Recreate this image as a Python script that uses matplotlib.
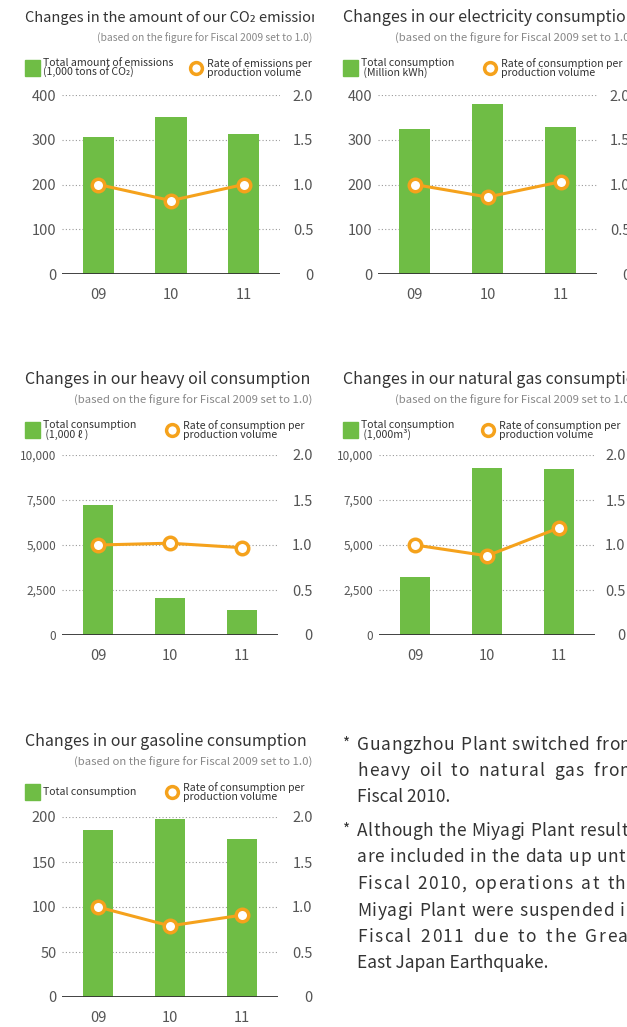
import matplotlib
matplotlib.use('Agg')
import matplotlib.pyplot as plt
from matplotlib.patches import Rectangle
from matplotlib.lines import Line2D
from matplotlib.transforms import Bbox, TransformedBbox
from matplotlib.font_manager import FontProperties

plt.rcParams['font.family'] = ['Noto Sans CJK JP', 'DejaVu Sans']

W, H = 627, 1027
GREEN = '#6fbd45'
ORANGE = '#f5a21c'
DARK = '#333333'
GREY = '#555555'

years = ['09', '10', '11']

co2_total = [306, 351, 313]
co2_rate = [1.0, 0.82, 1.0]
elec_total = [324, 380, 328]
elec_rate = [1.0, 0.86, 1.03]
oil_total = [7250, 2050, 1400]
oil_rate = [1.0, 1.02, 0.97]
gas_total = [3200, 9300, 9200]
gas_rate = [1.0, 0.88, 1.19]
gasoline_total = [186, 198, 176]
gasoline_rate = [1.0, 0.79, 0.91]

ticks_400 = [0, 100, 200, 300, 400]
ticks_10000 = [0, 2500, 5000, 7500, 10000]
labels_10000 = ['0', '2,500', '5,000', '7,500', '10,000']
ticks_200 = [0, 50, 100, 150, 200]
rate_ticks = [0, 0.5, 1.0, 1.5, 2.0]
rate_labels = ['0', '0.5', '1.0', '1.5', '2.0']

titles = ['Changes in the amount of our CO\u2082 emissions',
          'Changes in our electricity consumption',
          'Changes in our heavy oil consumption',
          'Changes in our natural gas consumption',
          'Changes in our gasoline consumption']
subtitle = '(based on the figure for Fiscal 2009 set to 1.0)'
bar_labels = ['Total amount of emissions\n(1,000 tons of CO\u2082)',
              'Total consumption\n (Million kWh)',
              'Total consumption\n (1,000 \u2113 )',
              'Total consumption\n (1,000m\u00b3)',
              'Total consumption']
rate_labels_leg = ['Rate of emissions per\nproduction volume',
                   'Rate of consumption per\nproduction volume',
                   'Rate of consumption per\nproduction volume',
                   'Rate of consumption per\nproduction volume',
                   'Rate of consumption per\nproduction volume']

note1 = ['Guangzhou Plant switched from', 'heavy oil to natural gas from', 'Fiscal 2010.']
note2 = ['Although the Miyagi Plant results', 'are included in the data up until',
         'Fiscal 2010, operations at the', 'Miyagi Plant were suspended in',
         'Fiscal 2011 due to the Great', 'East Japan Earthquake.']

fig = plt.figure(figsize=(W / 100, H / 100), dpi=100)
left_clip = TransformedBbox(Bbox.from_extents(0, 0, 314 / W, 1), fig.transFigure)


def fx(x):
    return x / W


def fy(y):
    return 1 - y / H


def txt(x, y, s, clip=False, **kw):
    t = fig.text(fx(x), fy(y), s, **kw)
    if clip:
        t.set_clip_box(left_clip)
        t.set_clip_on(True)
    return t


def panel(l, t, r, b, totals, rates, ymax, yticks, ylabels, lsize, rpad):
    ax = fig.add_axes([fx(l), fy(b), (r - l) / W, (b - t) / H])
    x = range(len(years))
    ax.bar(x, totals, width=0.43, color=GREEN, zorder=2)
    ax.set_xlim(-0.5, 2.5)
    ax.set_ylim(0, ymax)
    ax.set_yticks(yticks)
    ax.set_yticklabels(ylabels)
    ax.grid(axis='y', linestyle=(0, (1, 2)), color='#999999', lw=0.8)
    ax.set_axisbelow(True)
    ax.axhline(0, color=DARK, lw=1.3, zorder=3)
    for s in ax.spines.values():
        s.set_visible(False)
    ax.tick_params(axis='y', length=0, labelsize=lsize, labelcolor=GREY, pad=4)
    ax.set_xticks(list(x))
    ax.set_xticklabels(years)
    ax.tick_params(axis='x', length=0, labelsize=10.5, labelcolor=GREY, pad=10)

    ax2 = ax.twinx()
    ax2.plot(list(x), rates, color=ORANGE, lw=2.2, marker='o', ms=9,
             mfc='white', mec=ORANGE, mew=2.5, zorder=4)
    ax2.set_ylim(0, 2)
    ax2.set_yticks(rate_ticks)
    ax2.set_yticklabels(rate_labels)
    for lab in ax2.get_yticklabels():
        lab.set_ha('right')
    ax2.tick_params(axis='y', length=0, labelsize=10.5, labelcolor=GREY, pad=rpad)
    for s in ax2.spines.values():
        s.set_visible(False)
    return ax


def header(i, x0, ytop, title_fs, sub_fs, sub_right, ring_x, clip):
    txt(x0, ytop, titles[i], clip=clip, fontsize=title_fs, color=DARK, va='center')
    txt(sub_right, ytop + 20, subtitle, clip=clip, fontsize=sub_fs, color='#888888',
        va='center', ha='right')
    ly = ytop + 50
    fig.add_artist(Rectangle((fx(x0), fy(ly + 8)), 15 / W, 16 / H,
                             color=GREEN, transform=fig.transFigure))
    txt(x0 + 18, ly, bar_labels[i], clip=clip, fontsize=7.6, color=DARK,
        va='center', linespacing=0.9)
    fig.add_artist(Line2D([fx(ring_x)], [fy(ly)], marker='o', ms=8.5, mfc='white',
                          mec=ORANGE, mew=2.5, transform=fig.transFigure))
    txt(ring_x + 11, ly, rate_labels_leg[i], clip=clip, fontsize=7.6, color=DARK,
        va='center', linespacing=0.9)


panel(62, 95, 280, 274, co2_total, co2_rate, 400, ticks_400,
      [str(v) for v in ticks_400], 10.5, 24)
panel(378, 95, 597, 274, elec_total, elec_rate, 400, ticks_400,
      [str(v) for v in ticks_400], 10.5, 24)
panel(62, 455, 278, 635, oil_total, oil_rate, 10000, ticks_10000, labels_10000, 8.5, 25)
panel(379, 455, 595, 635, gas_total, gas_rate, 10000, ticks_10000, labels_10000, 8.5, 22)
panel(62, 817, 278, 997, gasoline_total, gasoline_rate, 200, ticks_200,
      [str(v) for v in ticks_200], 10.5, 25)

header(0, 25, 18, 10.5, 7.4, 312, 196, True)
header(1, 343, 18, 11.5, 8.2, 633, 490, False)
header(2, 25, 380, 11.5, 8.2, 312, 172, True)
header(3, 343, 380, 11.5, 8.2, 633, 488, False)
header(4, 25, 742, 11.5, 8.2, 312, 172, True)

# notes: spread each line over the column width (more at spaces, some between letters)
renderer = fig.canvas.get_renderer()
note_fs = 12.5
prop = FontProperties(family=['Noto Sans CJK JP', 'DejaVu Sans'], size=note_fs)


def width(s):
    return renderer.get_text_width_height_descent(s + '|', prop, ismath=False)[0] - \
        renderer.get_text_width_height_descent('|', prop, ismath=False)[0]


def justify(line, y, x0=357, x1=636, last=False):
    if last:
        txt(x0, y, line, fontsize=note_fs, color=DARK, va='center')
        return
    natural = width(line)
    weights = [3 if ch == ' ' else 1 for ch in line[:-1]]
    unit = (x1 - x0 - natural) / sum(weights)
    shift = 0
    for k, ch in enumerate(line):
        if ch != ' ':
            txt(x0 + width(line[:k]) + shift, y, ch, fontsize=note_fs, color=DARK,
                va='center')
        if k < len(weights):
            shift += weights[k] * unit


for k, line in enumerate(note1):
    justify(line, 745 + 26 * k, last=(k == len(note1) - 1))
for k, line in enumerate(note2):
    justify(line, 831 + 26.5 * k, last=(k == len(note2) - 1))
txt(343, 744, '*', fontsize=11, color=DARK, va='center')
txt(343, 830, '*', fontsize=11, color=DARK, va='center')

fig.savefig('out.png', dpi=100)
